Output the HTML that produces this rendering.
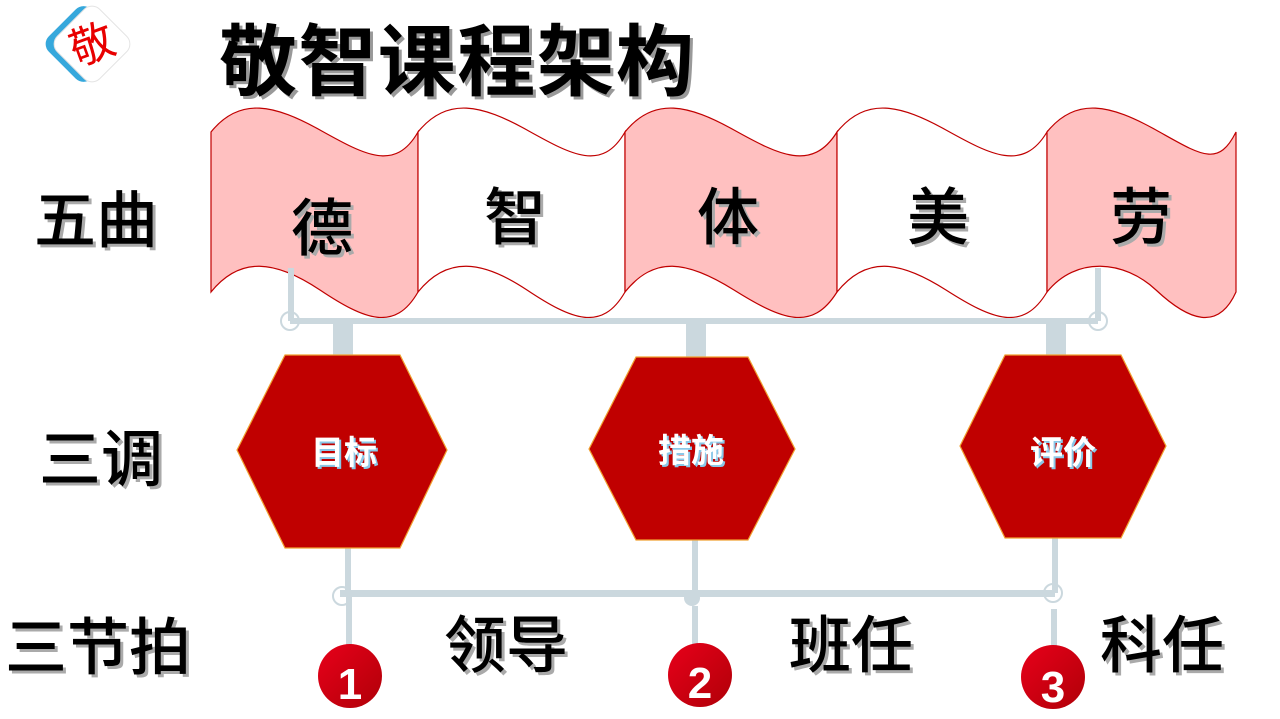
<!DOCTYPE html>
<html><head><meta charset="utf-8"><style>
html,body{margin:0;padding:0;background:#fff;}
svg{display:block}
.t{font-family:"Liberation Sans","Noto Sans CJK SC",sans-serif;font-weight:500;fill:#000;}
.sh{font-family:"Liberation Sans","Noto Sans CJK SC",sans-serif;font-weight:500;fill:#aaa;}
.tb{font-family:"Liberation Sans","Noto Sans CJK SC",sans-serif;font-weight:bold;fill:#000;}
.shb{font-family:"Liberation Sans","Noto Sans CJK SC",sans-serif;font-weight:bold;fill:#999;}
</style></head><body>
<svg width="1280" height="719" viewBox="0 0 1280 719" xmlns="http://www.w3.org/2000/svg">
<defs>
<linearGradient id="cg" x1="0" y1="0" x2="1" y2="1"><stop offset="0" stop-color="#e8001a"/><stop offset="1" stop-color="#b00008"/></linearGradient>
</defs>
<!-- logo -->
<g transform="translate(92,44) rotate(45)">
<rect x="-30" y="-30" width="60" height="60" rx="11" fill="#36a8dc" transform="translate(-6,6)"/>
<rect x="-30" y="-30" width="60" height="60" rx="11" fill="#fff" stroke="#e4e4e4"/>
</g>
<text x="92" y="60" font-size="44" fill="#e80000" text-anchor="middle" transform="rotate(-20 92 44)" font-family="'Liberation Sans','Noto Sans CJK SC',sans-serif">敬</text>
<!-- title -->
<text class="shb" x="222" y="92" font-size="78" textLength="475">敬智课程架构</text>
<text class="tb" x="219" y="89" font-size="78" textLength="475">敬智课程架构</text>
<!-- flag panels -->
<g stroke="#c00000" stroke-width="1.2">
<path d="M211,132 C240,96 275,105 320,130 S395,172 418,132 L418,292 C395,332 365,320 320,290 S240,256 211,292 Z" fill="#ffc0c0"/>
<path d="M418,132 C447,96 482,105 527,130 S602,172 625,132 L625,292 C602,332 572,320 527,290 S447,256 418,292 Z" fill="#fff"/>
<path d="M625,132 C654,96 689,105 734,130 S812,172 837,132 L837,292 C812,332 782,320 734,290 S654,256 625,292 Z" fill="#ffc0c0"/>
<path d="M837,132 C866,96 901,105 946,130 S1023,172 1047,132 L1047,292 C1023,332 993,320 946,290 S866,256 837,292 Z" fill="#fff"/>
<path d="M1047,132 C1076,96 1111,105 1156,130 S1218,168 1236,132 L1236,292 C1218,332 1188,320 1156,290 S1076,256 1047,292 Z" fill="#ffc0c0"/>
</g>
<g font-size="62">
<text class="sh" x="325" y="253" text-anchor="middle">德</text><text class="t" x="322" y="250" text-anchor="middle">德</text>
<text class="sh" x="518" y="242" text-anchor="middle">智</text><text class="t" x="515" y="239" text-anchor="middle">智</text>
<text class="sh" x="731" y="242" text-anchor="middle">体</text><text class="t" x="728" y="239" text-anchor="middle">体</text>
<text class="sh" x="941" y="242" text-anchor="middle">美</text><text class="t" x="938" y="239" text-anchor="middle">美</text>
<text class="sh" x="1144" y="242" text-anchor="middle">劳</text><text class="t" x="1141" y="239" text-anchor="middle">劳</text>
</g>
<!-- left labels -->
<g font-size="62">
<text class="sh" x="37" y="245">五曲</text><text class="t" x="34" y="242">五曲</text>
<text class="sh" x="42" y="484">三调</text><text class="t" x="39" y="481">三调</text>
<text class="sh" x="8" y="672">三节拍</text><text class="t" x="5" y="669">三节拍</text>
<text class="sh" x="447" y="670">领导</text><text class="t" x="444" y="667">领导</text>
<text class="sh" x="792" y="670">班任</text><text class="t" x="789" y="667">班任</text>
<text class="sh" x="1103" y="670">科任</text><text class="t" x="1100" y="667">科任</text>
</g>
<!-- connectors -->
<g fill="#cbd8de" stroke="none">
<rect x="288" y="268" width="6" height="53"/>
<rect x="1095" y="268" width="6" height="53"/>
<rect x="290" y="318" width="808" height="6"/>
<rect x="333" y="321" width="20" height="35"/>
<rect x="686" y="321" width="20" height="37"/>
<rect x="1046" y="321" width="20" height="35"/>
<rect x="345" y="546" width="6" height="47"/>
<rect x="692" y="538" width="6" height="55"/>
<rect x="1052" y="538" width="6" height="55"/>
<rect x="340" y="590" width="715" height="7"/>
<rect x="346" y="596" width="6" height="50"/>
<rect x="692" y="606" width="6" height="40"/>
<rect x="1051" y="609" width="6" height="38"/>
<circle cx="692" cy="598" r="8"/>
</g>
<g fill="none" stroke="#cbd8de" stroke-width="2">
<circle cx="290" cy="321" r="9"/>
<circle cx="1098" cy="321" r="9"/>
<circle cx="342" cy="596" r="9"/>
<circle cx="1053" cy="593" r="9"/>
</g>
<!-- hexagons -->
<g fill="#c00000" stroke="#f0a030" stroke-width="1.2">
<polygon points="237,450 285,355 400,355 447,450 400,548 285,548"/>
<polygon points="589,449 636,357 748,357 795,449 748,540 636,540"/>
<polygon points="960,446 1005,355 1121,355 1166,446 1121,538 1005,538"/>
</g>
<g font-size="33" font-family="'Liberation Sans','Noto Sans CJK SC',sans-serif" font-weight="bold" text-anchor="middle">
<text x="346" y="466" fill="#8ac8e8">目标</text><text x="344" y="464" fill="#fff">目标</text>
<text x="693" y="464" fill="#8ac8e8">措施</text><text x="691" y="462" fill="#fff">措施</text>
<text x="1065" y="466" fill="#8ac8e8">评价</text><text x="1063" y="464" fill="#fff">评价</text>
</g>
<!-- numbered circles -->
<circle cx="350" cy="676" r="32" fill="url(#cg)"/>
<circle cx="700" cy="675" r="32" fill="url(#cg)"/>
<circle cx="1053" cy="677" r="32" fill="url(#cg)"/>
<g font-family="'Liberation Sans',sans-serif" font-weight="bold" font-size="44" fill="#fff" text-anchor="middle">
<text x="350" y="699">1</text><text x="700" y="698">2</text><text x="1053" y="702">3</text>
</g>
</svg>
</body></html>
